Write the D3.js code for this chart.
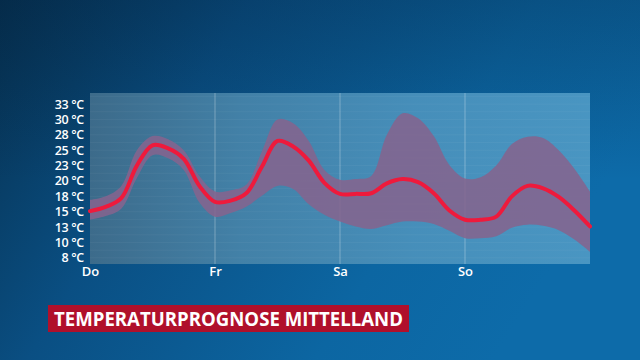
<!DOCTYPE html>
<html><head><meta charset="utf-8">
<script src="https://cdn.jsdelivr.net/npm/d3@7"></script>
<style>html,body{margin:0;padding:0;background:#0a4f86;}svg{display:block;}</style>
</head><body>
<svg id="chart" width="640" height="360"></svg>
<script>
const hours = [0,3,6,9,12,15,18,21,24,27,30,33,36,39,42,45,48,51,54,57,60,63,66,69,72,75,78,81,84,87,90,93,96];
const meanTemp = [15.1,15.8,17.2,22.5,25.8,25.3,23.6,19.2,16.6,16.8,18.0,22.3,26.5,25.6,23.3,19.7,17.9,17.9,18.0,19.6,20.3,19.8,18.0,15.2,13.7,13.7,14.2,17.5,19.2,18.8,17.4,15.2,12.6];
const upperTemp = [16.9,17.5,19.2,25.0,27.3,26.8,25.0,20.8,18.3,18.5,19.4,24.8,30.0,29.4,26.5,21.8,20.2,20.3,20.8,27.5,31.0,30.2,27.3,22.6,20.4,20.6,22.5,26.0,27.2,27.0,25.0,22.0,18.3];
const lowerTemp = [13.7,14.3,15.5,20.5,24.2,23.7,21.8,16.5,14.2,14.8,15.8,17.6,19.2,18.7,16.2,14.5,13.4,12.6,12.2,12.8,13.4,13.4,13.0,11.9,10.7,10.7,11.0,12.4,12.9,12.7,12.0,10.5,8.5];
const dayLabels = ["Do","Fr","Sa","So"];
const dayHours = [0,24,48,72];
const yTickValues = [7.5,10,12.5,15,17.5,20,22.5,25,27.5,30,32.5];
const yTickLabels = ["8 °C","10 °C","13 °C","15 °C","18 °C","20 °C","23 °C","25 °C","28 °C","30 °C","33 °C"];
const title = "TEMPERATURPROGNOSE MITTELLAND";

const svg = d3.select("#chart");
const W = 640, H = 360;
const m = {left: 90, right: 50, top: 93, bottom: 96};
const defs = svg.append("defs");

const bg = defs.append("linearGradient").attr("id","bg").attr("x1","0").attr("y1","0").attr("x2","1").attr("y2","0.35");
bg.append("stop").attr("offset","0").attr("stop-color","#06304f");
bg.append("stop").attr("offset","0.35").attr("stop-color","#0a4f83");
bg.append("stop").attr("offset","0.75").attr("stop-color","#0c66a2");
bg.append("stop").attr("offset","1").attr("stop-color","#0d6ba9");
svg.append("rect").attr("width",W).attr("height",H).attr("fill","url(#bg)");
const bg2 = defs.append("linearGradient").attr("id","bg2").attr("x1","0").attr("y1","0").attr("x2","0").attr("y2","1");
bg2.append("stop").attr("offset","0").attr("stop-color","#02203d").attr("stop-opacity",0.3);
bg2.append("stop").attr("offset","0.5").attr("stop-color","#02203d").attr("stop-opacity",0);
svg.append("rect").attr("width",W).attr("height",H).attr("fill","url(#bg2)");

const x = d3.scaleLinear().domain([0,96]).range([m.left, W - m.right]);
const y = d3.scaleLinear().domain([6.5,34.3]).range([H - m.bottom, m.top]);

const pg = defs.append("linearGradient").attr("id","plotbg").attr("x1","0").attr("y1","0").attr("x2","1").attr("y2","0");
pg.append("stop").attr("offset","0").attr("stop-color","#3e6c8b");
pg.append("stop").attr("offset","0.3").attr("stop-color","#4482a8");
pg.append("stop").attr("offset","0.65").attr("stop-color","#4890bb");
pg.append("stop").attr("offset","1").attr("stop-color","#4b97c3");
svg.append("rect").attr("x",x(0)).attr("y",y(34.3)).attr("width",x(96)-x(0)).attr("height",y(6.5)-y(34.3)).attr("fill","url(#plotbg)").attr("fill-opacity",0.97);

// horizontal faint grid
svg.append("g").selectAll("line").data(d3.range(7.5,34,1.25)).join("line")
  .attr("x1",x(0)).attr("x2",x(96)).attr("y1",d=>y(d)).attr("y2",d=>y(d))
  .attr("stroke","#ffffff").attr("stroke-opacity",0.045).attr("stroke-width",1);

// vertical day lines
svg.append("g").selectAll("line").data(dayHours.slice(1)).join("line")
  .attr("x1",d=>x(d)).attr("x2",d=>x(d)).attr("y1",y(34.3)).attr("y2",y(6.5))
  .attr("stroke","#ffffff").attr("stroke-opacity",0.3).attr("stroke-width",1);

const data = hours.map((h,i)=>({h, mean: meanTemp[i], up: upperTemp[i], lo: lowerTemp[i]}));
const curve = d3.curveCatmullRom.alpha(0.5);
const area = d3.area().x(d=>x(d.h)).y0(d=>y(d.lo)).y1(d=>y(d.up)).curve(curve);
svg.append("path").datum(data).attr("d",area).attr("fill","#84648e").attr("fill-opacity",0.88);

const line = d3.line().x(d=>x(d.h)).y(d=>y(d.mean)).curve(curve);
svg.append("path").datum(data).attr("d",line).attr("fill","none").attr("stroke","#ee1a3c").attr("stroke-width",4).attr("stroke-linejoin","round").attr("stroke-linecap","round");

// y axis
const yAxis = d3.axisLeft(y).tickValues(yTickValues).tickFormat((d,i)=>yTickLabels[i]).tickSize(0).tickPadding(6);
const ga = svg.append("g").attr("transform",`translate(${x(0)},0)`).call(yAxis);
ga.select(".domain").remove();
ga.selectAll("text").attr("fill","#ffffff").style("font-family","'Open Sans', sans-serif").style("font-size","12.5px").style("font-weight","600").style("letter-spacing","-0.3px");

// x axis
const xAxis = d3.axisBottom(x).tickValues(dayHours).tickFormat((d,i)=>dayLabels[i]).tickSize(0).tickPadding(3);
const gx = svg.append("g").attr("transform",`translate(0,${y(6.5)})`).call(xAxis);
gx.select(".domain").remove();
gx.selectAll("text").attr("fill","#ffffff").style("font-family","'Open Sans', sans-serif").style("font-size","13px").style("font-weight","600");

// title
const tg = svg.append("g");
tg.append("rect").attr("x",48).attr("y",305).attr("width",361).attr("height",27).attr("fill","#b0102b");
tg.append("text").attr("x",54).attr("y",325.5).text(title)
  .attr("fill","#ffffff").style("font-family","'Open Sans', sans-serif").style("font-size","19px").style("font-weight","700")
  .attr("textLength",349).attr("lengthAdjust","spacingAndGlyphs");
</script>
</body></html>
